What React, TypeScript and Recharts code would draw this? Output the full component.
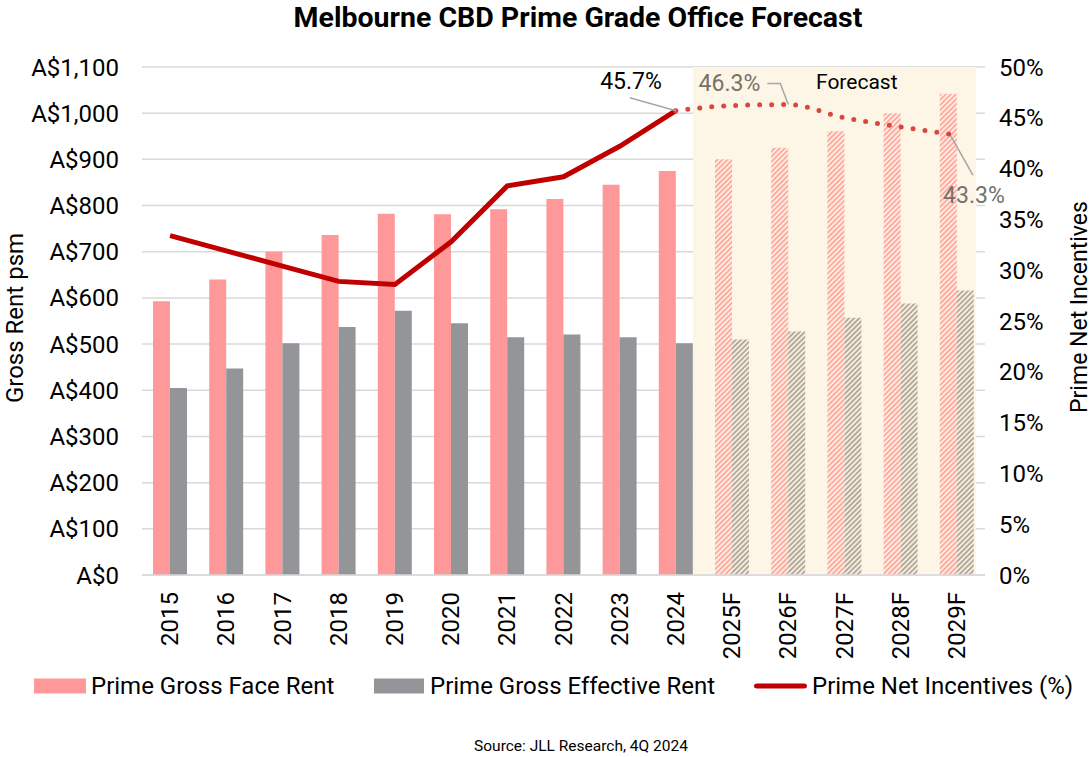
import React from 'react';
import { ComposedChart, Bar, Line, XAxis, YAxis, CartesianGrid, ReferenceArea, Cell } from 'recharts';

const years = ['2015', '2016', '2017', '2018', '2019', '2020', '2021', '2022', '2023', '2024', '2025F', '2026F', '2027F', '2028F', '2029F'];
const faceRent = [593, 640, 700, 736, 782, 781, 792, 814, 845, 875, 900, 925, 961, 1000, 1042];
const effectiveRent = [405, 447, 502, 537, 572, 545, 515, 521, 515, 502, 510, 527, 557, 588, 616];
const netIncentives = [33.4, 31.9, 30.4, 28.9, 28.6, 32.8, 38.3, 39.2, 42.2, 45.7, null, null, null, null, null];
const netIncentivesForecast = [null, null, null, null, null, null, null, null, null, 45.7, 46.2, 46.3, 45.0, 44.1, 43.3];
const rentTicks = [0, 100, 200, 300, 400, 500, 600, 700, 800, 900, 1000, 1100];
const pctTicks = [0, 5, 10, 15, 20, 25, 30, 35, 40, 45, 50];

const forecastYears = years.filter((y) => y.endsWith('F'));
const isForecast = (y: string) => y.endsWith('F');

const data = years.map((year, i) => ({
  year,
  face: faceRent[i],
  effective: effectiveRent[i],
  incentives: netIncentives[i],
  forecast: netIncentivesForecast[i],
}));

const FONT = 'Roboto, "Noto Sans", sans-serif';
const BAR = 17;
const TICK = 24;
const lastActual = netIncentives.map((v, i) => (v == null ? -1 : i)).reduce((a, b) => Math.max(a, b));
const peakForecast = netIncentivesForecast.indexOf(Math.max(...(netIncentivesForecast.filter((v) => v != null) as number[])));
const lastForecast = netIncentivesForecast.length - 1;

const YearTick = ({ x, y, payload }: any) => (
  <text
    x={x}
    y={y}
    transform={`rotate(-90, ${x}, ${y})`}
    textAnchor="end"
    dominantBaseline="central"
    fill="#000"
    fontSize={TICK}
    fontFamily={FONT}
  >
    {payload.value}
  </text>
);

// shading runs from the right edge of the last actual bar pair to the right edge of the last forecast pair
const ForecastShade = (props: any) => {
  const { x, y, width, height } = props;
  const band = width / forecastYears.length;
  const shift = BAR - band / 2;
  return <rect x={x + shift} y={y} width={width + 2} height={height} fill="#FDF6E6" />;
};

const ActualDot = (props: any) => {
  const { cx, cy, index } = props;
  if (index !== lastActual || cx == null) return <g key={`a-${index}`} />;
  return (
    <g key={`a-${index}`}>
      <line x1={cx - 46} y1={cy - 13} x2={cx} y2={cy} stroke="#A6A6A6" strokeWidth={1.5} />
      <text x={cx - 14} y={cy - 29} textAnchor="end" dominantBaseline="central" fontSize={23} fontFamily={FONT} fill="#000">
        {props.value}%
      </text>
    </g>
  );
};

const ForecastDot = (props: any) => {
  const { cx, cy, index, value } = props;
  if (cx == null || cy == null) return <g key={`f-${index}`} />;
  if (index === peakForecast) {
    return (
      <g key={`f-${index}`}>
        <polyline points={`${cx - 21},${cy - 21} ${cx - 8},${cy - 21} ${cx},${cy}`} fill="none" stroke="#A6A6A6" strokeWidth={1.5} />
        <text x={cx - 28} y={cy - 21} textAnchor="end" dominantBaseline="central" fontSize={23} fontFamily={FONT} fill="#75716B">
          {value.toFixed(1)}%
        </text>
      </g>
    );
  }
  if (index === lastForecast) {
    return (
      <g key={`f-${index}`}>
        <line x1={cx - 6} y1={cy + 1} x2={cx + 16} y2={cy + 40} stroke="#A6A6A6" strokeWidth={1.5} />
        <text x={cx + 17} y={cy + 60} textAnchor="middle" dominantBaseline="central" fontSize={23} fontFamily={FONT} fill="#75716B">
          {value.toFixed(1)}%
        </text>
      </g>
    );
  }
  return <g key={`f-${index}`} />;
};

const legendItems = [
  { label: 'Prime Gross Face Rent', left: 34, swatch: { w: 52, h: 15, color: '#FF9999', r: 0 }, text: 91 },
  { label: 'Prime Gross Effective Rent', left: 374, swatch: { w: 50, h: 15, color: '#939598', r: 0 }, text: 430 },
  { label: 'Prime Net Incentives (%)', left: 754, swatch: { w: 53, h: 5, color: '#C00000', r: 3 }, text: 812 },
];

export default function App() {
  return (
    <div style={{ position: 'fixed', left: 0, top: 0, width: 1091, height: 757, background: '#fff', fontFamily: FONT }}>
      <svg width={1091} height={757} style={{ position: 'absolute', left: 0, top: 0 }}>
        <text x={578} y={17} textAnchor="middle" dominantBaseline="central" fontSize={28.5} fontWeight={700} fontFamily={FONT} fill="#000">
          Melbourne CBD Prime Grade Office Forecast
        </text>
        <text x={15} y={318} transform="rotate(-90, 15, 318)" textAnchor="middle" dominantBaseline="central" fontSize={TICK} fontFamily={FONT} fill="#000">
          Gross Rent psm
        </text>
        <text x={1079} y={307} transform="rotate(-90, 1079, 307)" textAnchor="middle" dominantBaseline="central" fontSize={23} fontFamily={FONT} fill="#000">
          Prime Net Incentives
        </text>
        <text x={581} y={746} textAnchor="middle" dominantBaseline="central" fontSize={15.5} fontFamily={FONT} fill="#000">
          Source: JLL Research, 4Q 2024
        </text>
        {legendItems.map((it) => (
          <g key={it.label}>
            <rect x={it.left} y={686 - it.swatch.h / 2} width={it.swatch.w} height={it.swatch.h} rx={it.swatch.r} fill={it.swatch.color} />
            <text x={it.text} y={686} dominantBaseline="central" fontSize={TICK} fontFamily={FONT} fill="#000">
              {it.label}
            </text>
          </g>
        ))}
      </svg>
      <div style={{ position: 'absolute', left: 0, top: 0 }}>
        <ComposedChart
          width={1091}
          height={757}
          data={data}
          margin={{ top: 67, right: 0, left: 0, bottom: 92 }}
          barGap={0}
          style={{ fontFamily: FONT }}
        >
          <defs>
            <pattern id="hatchPink" width="3.6" height="3.6" patternUnits="userSpaceOnUse" patternTransform="rotate(45)">
              <rect width="2" height="3.6" fill="#FFA9A2" />
            </pattern>
            <pattern id="hatchGray" width="3.6" height="3.6" patternUnits="userSpaceOnUse" patternTransform="rotate(45)">
              <rect width="2" height="3.6" fill="#B3A89C" />
            </pattern>
          </defs>
          <ReferenceArea
            yAxisId="left"
            x1={forecastYears[0]}
            x2={forecastYears[forecastYears.length - 1]}
            y1={0}
            y2={1100}
            shape={ForecastShade}
            ifOverflow="visible"
          />
          <CartesianGrid yAxisId="left" vertical={false} stroke="#D9D9D9" strokeWidth={1.5} />
          <XAxis
            dataKey="year"
            height={90}
            axisLine={{ stroke: '#D9D9D9', strokeWidth: 1.5 }}
            tickLine={false}
            tickMargin={11}
            interval={0}
            tick={<YearTick />}
          />
          <YAxis
            yAxisId="left"
            width={142}
            domain={[0, 1100]}
            ticks={rentTicks}
            tickFormatter={(v: number) => `A$${v.toLocaleString('en-US')}`}
            axisLine={false}
            tickLine={false}
            tickMargin={17}
            tick={{ fill: '#000', fontSize: TICK, fontFamily: FONT }}
          />
          <YAxis
            yAxisId="right"
            orientation="right"
            width={106}
            domain={[0, 50]}
            ticks={pctTicks}
            tickFormatter={(v: number) => `${v}%`}
            axisLine={false}
            tickLine={false}
            tickMargin={8}
            tick={{ fill: '#000', fontSize: TICK, fontFamily: FONT, textAnchor: 'start' }}
          />
          <Bar yAxisId="left" dataKey="face" name="Prime Gross Face Rent" barSize={BAR} fill="#FF9999" isAnimationActive={false}>
            {data.map((d) => (
              <Cell key={d.year} fill={isForecast(d.year) ? 'url(#hatchPink)' : '#FF9999'} />
            ))}
          </Bar>
          <Bar yAxisId="left" dataKey="effective" name="Prime Gross Effective Rent" barSize={BAR} fill="#939598" isAnimationActive={false}>
            {data.map((d) => (
              <Cell key={d.year} fill={isForecast(d.year) ? 'url(#hatchGray)' : '#939598'} />
            ))}
          </Bar>
          <Line
            yAxisId="right"
            type="linear"
            dataKey="incentives"
            name="Prime Net Incentives (%)"
            stroke="#C00000"
            strokeWidth={5}
            dot={ActualDot}
            activeDot={false}
            isAnimationActive={false}
          />
          <Line
            yAxisId="right"
            type="monotone"
            dataKey="forecast"
            stroke="#D9473F"
            strokeWidth={5}
            strokeDasharray="0 12"
            strokeLinecap="round"
            dot={ForecastDot}
            activeDot={false}
            isAnimationActive={false}
          />
        </ComposedChart>
      </div>
      <div style={{ position: 'absolute', left: 816, top: 70, fontSize: 21, color: '#000' }}>Forecast</div>
    </div>
  );
}
